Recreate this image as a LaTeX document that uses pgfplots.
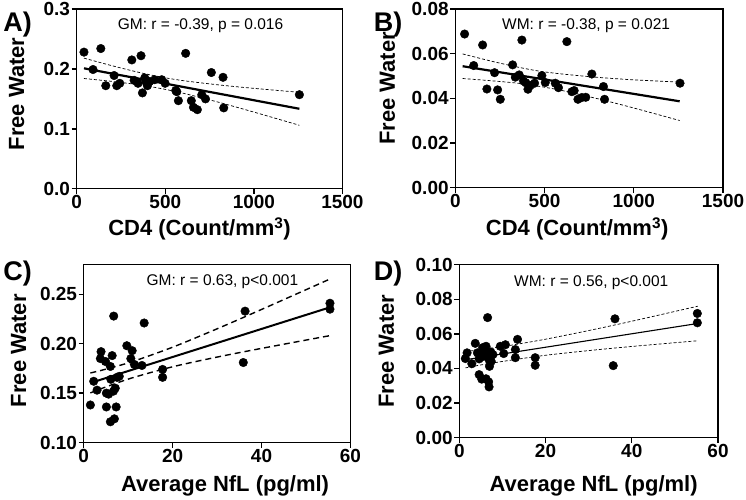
\documentclass[border=0pt]{standalone}
\usepackage{fontspec}
\setmainfont{Liberation Sans}
\usepackage{pgfplots}
\pgfplotsset{compat=1.18}

\pgfplotsset{
  panel/.style={
    scale only axis, anchor=south west,
    axis line style={line width=1.4pt},
    every tick/.style={line width=1.4pt, black},
    tick align=outside, major tick length=5pt,
    tick pos=left,
    scaled ticks=false,
    ticklabel style={font=\fontsize{19}{19}\selectfont\bfseries, inner sep=1.5pt},
    /pgf/number format/assume math mode=true,
    /pgf/number format/1000 sep={},
    label style={font=\fontsize{22}{22}\selectfont\bfseries},
    ylabel={Free Water},
  },
  prec/.style={yticklabel style={/pgf/number format/fixed, /pgf/number format/fixed zerofill, /pgf/number format/precision=#1}},
  dots/.style={only marks, mark=*, mark size=4.3pt, black},
}
\tikzset{
  note/.style={font=\fontsize{15.5}{15.5}\selectfont, anchor=center},
  letter/.style={font=\fontsize{27}{27}\selectfont\bfseries, anchor=west},
}

\begin{document}
\begin{tikzpicture}[x=1pt,y=1pt]
\path (0,0) rectangle (746,498);

% A) GM vs CD4
\begin{axis}[panel, prec=1, at={(76pt,309pt)}, width=266pt, height=180pt,
  xmin=0, xmax=1500, ymin=0, ymax=0.3,
  xtick={0,500,1000,1500}, ytick={0,0.1,0.2,0.3},
  xlabel={CD4 (Count/mm\textsuperscript{3})},
  xlabel style={at={(axis description cs:0.5,0)}, anchor=center, xshift=-10pt, yshift=-40pt},
  ylabel style={at={(axis description cs:0,0.5)}, anchor=center, yshift=60pt, xshift=5pt}]
\addplot[dots] coordinates {
(41,0.228) (136,0.234) (92,0.199) (164,0.172) (211,0.189) (226,0.172)
(243,0.176) (311,0.215) (363,0.222) (324,0.181) (346,0.176) (371,0.160)
(384,0.185) (399,0.172) (412,0.179) (440,0.182) (480,0.182) (499,0.176)
(559,0.164) (574,0.147) (615,0.226) (647,0.147) (659,0.136) (681,0.132)
(706,0.157) (727,0.150) (760,0.194) (826,0.186) (830,0.135) (1257,0.157)
(565,0.162) (392,0.178)};
\addplot[line width=2.2pt] coordinates {(41,0.2010) (1257,0.1335)};
\addplot[smooth, line width=0.7pt, dash pattern=on 3pt off 2pt] coordinates {
(41,0.2180) (200,0.2053) (350,0.1943) (470,0.1868) (600,0.1805) (800,0.1734) (1000,0.1676) (1257,0.1610)};
\addplot[smooth, line width=0.7pt, dash pattern=on 3pt off 2pt] coordinates {
(41,0.1840) (200,0.1792) (350,0.1735) (470,0.1676) (600,0.1595) (800,0.1445) (1000,0.1280) (1257,0.1060)};
\node[note] at (axis cs:699,0.272) {GM: r = -0.39, p = 0.016};
\end{axis}

% B) WM vs CD4
\begin{axis}[panel, prec=2, at={(455pt,310pt)}, width=268pt, height=179pt,
  xmin=0, xmax=1500, ymin=0, ymax=0.08,
  xtick={0,500,1000,1500}, ytick={0,0.02,0.04,0.06,0.08},
  xlabel={CD4 (Count/mm\textsuperscript{3})},
  xlabel style={at={(axis description cs:0.5,0)}, anchor=center, xshift=-12pt, yshift=-41pt},
  ylabel style={at={(axis description cs:0,0.5)}, anchor=center, yshift=68pt, xshift=10pt}]
\addplot[dots] coordinates {
(52,0.0688) (153,0.0639) (373,0.0661) (625,0.0654) (103,0.0547) (220,0.0515)
(177,0.0442) (237,0.0438) (252,0.0396) (321,0.0550) (336,0.0495) (358,0.0505)
(382,0.0478) (407,0.0441) (444,0.0468) (485,0.0502) (504,0.0471) (560,0.0468)
(578,0.0448) (653,0.0430) (666,0.0435) (687,0.0396) (709,0.0404) (731,0.0405)
(765,0.0509) (830,0.0453) (836,0.0396) (1259,0.0468) (395,0.0470) (420,0.0458)};
\addplot[line width=2.2pt] coordinates {(41,0.0544) (1257,0.0387)};
\addplot[smooth, line width=0.7pt, dash pattern=on 3pt off 2pt] coordinates {
(41,0.0599) (200,0.0567) (350,0.0540) (470,0.0522) (600,0.0509) (800,0.0494) (1000,0.0483) (1257,0.0473)};
\addplot[smooth, line width=0.7pt, dash pattern=on 3pt off 2pt] coordinates {
(41,0.0489) (200,0.0479) (350,0.0468) (470,0.0454) (600,0.0435) (800,0.0398) (1000,0.0357) (1257,0.0301)};
\node[note] at (axis cs:733,0.0725) {WM: r = -0.38, p = 0.021};
\end{axis}

% C) GM vs NfL
\begin{axis}[panel, prec=2, at={(83pt,55pt)}, width=267pt, height=178pt,
  xmin=0, xmax=60, ymin=0.10, ymax=0.28,
  xtick={0,20,40,60}, ytick={0.10,0.15,0.20,0.25},
  xlabel={Average NfL (pg/ml)},
  xlabel style={at={(axis description cs:0.5,0)}, anchor=center, xshift=8pt, yshift=-43pt},
  ylabel style={at={(axis description cs:0,0.5)}, anchor=center, yshift=65pt, xshift=3pt}]
\addplot[dots] coordinates {
(1.5,0.138) (2.25,0.162) (3.0,0.153) (3.9,0.192) (3.75,0.185) (4.9,0.182)
(6.4,0.188) (6.0,0.177) (5.1,0.150) (5.1,0.136) (6.0,0.121) (6.9,0.124)
(6.75,0.228) (6.1,0.164) (6.7,0.152) (7.1,0.155) (7.3,0.136) (7.5,0.166)
(8.0,0.167) (9.7,0.198) (10.9,0.193) (10.6,0.185) (11.4,0.179) (13.1,0.178)
(13.6,0.221) (17.75,0.174) (17.75,0.166) (36.3,0.233) (35.9,0.181)
(55.4,0.241) (55.4,0.235) (5.6,0.149)};
\addplot[line width=2pt] coordinates {(1.5,0.1603) (55.5,0.2370)};
\addplot[smooth, line width=1.4pt, dash pattern=on 6pt off 4pt] coordinates {
(1.5,0.1704) (5,0.1743) (11,0.1820) (20,0.1965) (30,0.2151) (40,0.2347) (55.5,0.2657)};
\addplot[smooth, line width=1.4pt, dash pattern=on 6pt off 4pt] coordinates {
(1.5,0.1502) (5,0.1563) (11,0.1656) (20,0.1767) (30,0.1865) (40,0.1953) (55.5,0.2083)};
\node[note] at (axis cs:31.2,0.2625) {GM: r = 0.63, p<0.001};
\end{axis}

% D) WM vs NfL
\begin{axis}[panel, prec=2, at={(459pt,60pt)}, width=259pt, height=173pt,
  xmin=0, xmax=60, ymin=0, ymax=0.10,
  xtick={0,20,40,60}, ytick={0,0.02,0.04,0.06,0.08,0.10},
  xlabel={Average NfL (pg/ml)},
  xlabel style={at={(axis description cs:0.5,0)}, anchor=center, xshift=5pt, yshift=-48pt},
  ylabel style={at={(axis description cs:0,0.5)}, anchor=center, yshift=73pt}]
\addplot[dots] coordinates {
(1.4,0.0457) (1.8,0.0490) (2.9,0.0427) (3.7,0.0545) (4.2,0.0490) (4.6,0.0455)
(5.0,0.0480) (5.4,0.0520) (5.6,0.0470) (6.2,0.0528) (6.0,0.0500) (6.6,0.0482)
(6.56,0.0694) (6.9,0.0450) (7.3,0.0495) (7.4,0.0441) (7.0,0.0412) (7.8,0.0480)
(4.6,0.0364) (5.2,0.0338) (6.2,0.0340) (6.8,0.0322) (6.9,0.0293) (9.5,0.0528)
(10.7,0.0537) (10.3,0.0486) (13.5,0.0568) (13.0,0.0509) (13.0,0.0462)
(17.6,0.0462) (17.6,0.0418) (36.1,0.0687) (35.7,0.0416) (55.2,0.0718) (55.2,0.0664)};
\addplot[line width=1.1pt] coordinates {(1.4,0.0450) (55.3,0.0660)};
\addplot[smooth, line width=0.7pt, dash pattern=on 3pt off 2pt] coordinates {
(1.4,0.0497) (5,0.0509) (11,0.0530) (20,0.0569) (30,0.0619) (40,0.0673) (55.3,0.0760)};
\addplot[smooth, line width=0.7pt, dash pattern=on 3pt off 2pt] coordinates {
(1.4,0.0403) (5,0.0420) (11,0.0444) (20,0.0476) (30,0.0503) (40,0.0527) (55.3,0.0560)};
\node[note] at (axis cs:30.6,0.0895) {WM: r = 0.56, p<0.001};
\end{axis}

\node[letter] at (-1,473) {A)};
\node[letter] at (370,473) {B)};
\node[letter] at (-1,224) {C)};
\node[letter] at (370,224) {D)};
\end{tikzpicture}
\end{document}
